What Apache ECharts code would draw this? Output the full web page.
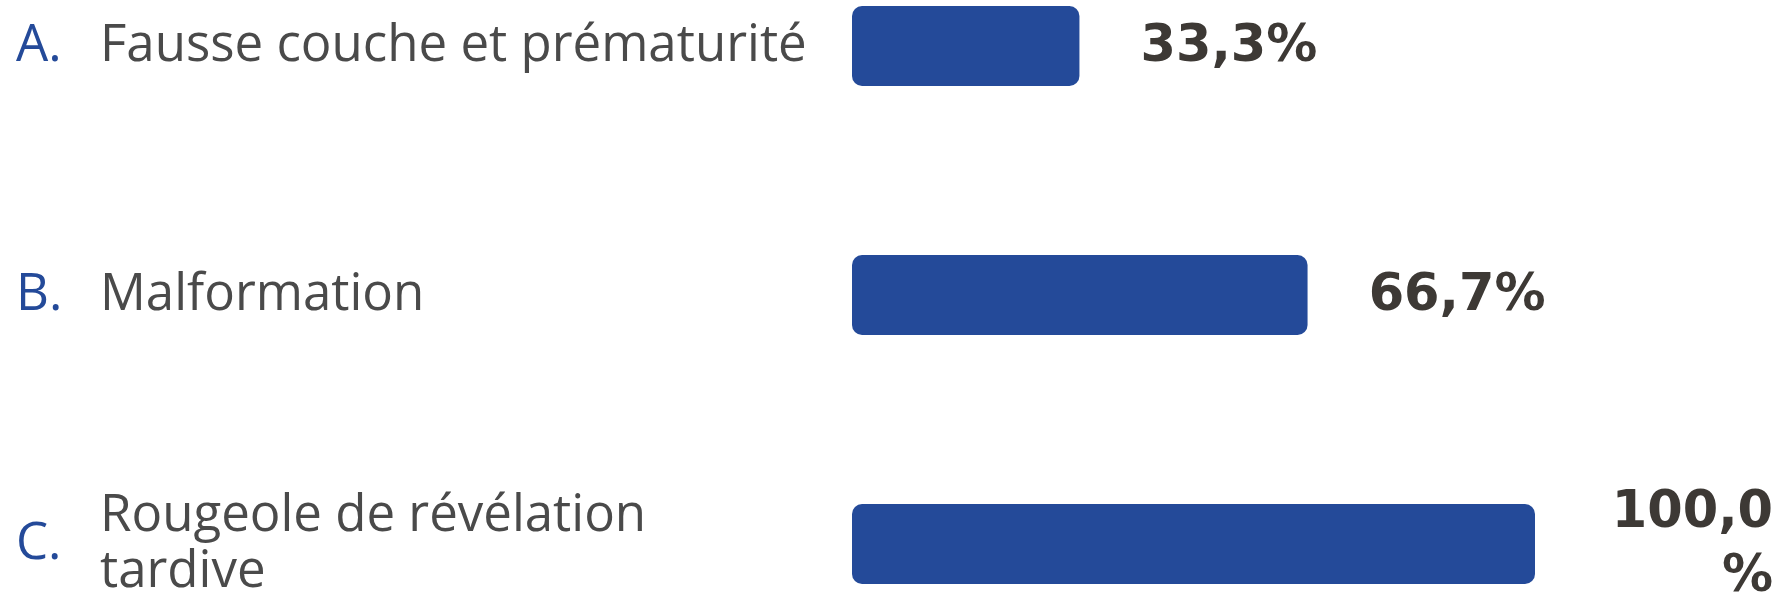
<!DOCTYPE html>
<html>
<head>
<meta charset="utf-8">
<script src="https://cdn.jsdelivr.net/npm/echarts@6/dist/echarts.min.js"></script>
<style>
  html, body { margin: 0; padding: 0; background: #ffffff; }
  #chart { width: 1789px; height: 599px; }
</style>
</head>
<body>
<div id="chart"></div>
<script>
// Categories, their letter markers and the share (%) for each
const letters = ['A.', 'B.', 'C.'];
const categories = ['Fausse couche et prématurité', 'Malformation', 'Rougeole de révélation\ntardive'];
const values = [33.3, 66.7, 100.0];

const BLUE = '#244a99';
const TEXT = '#4a4a4a';
const VALUE_TEXT = '#3d3935';

const chart = echarts.init(document.getElementById('chart'), null, { renderer: 'canvas' });

const baseCategoryAxis = {
  type: 'category',
  inverse: true,
  boundaryGap: false,
  axisLine: { show: false },
  axisTick: { show: false },
  splitLine: { show: false }
};

chart.setOption({
  animation: false,
  backgroundColor: '#ffffff',
  grid: {
    left: 852, right: 254, top: 46, bottom: 55,
    containLabel: false,
    outerBoundsMode: 'none'
  },
  xAxis: {
    type: 'value',
    min: 0,
    max: 100,
    show: false
  },
  yAxis: [
    // letter markers (A., B., C.)
    Object.assign({}, baseCategoryAxis, {
      data: letters,
      axisLabel: {
        margin: 836,
        align: 'left',
        color: BLUE,
        fontFamily: 'Open Sans',
        fontSize: 51,
        padding: [14, 0, 0, 0]
      }
    }),
    // category names
    Object.assign({}, baseCategoryAxis, {
      position: 'left',
      data: categories,
      axisLabel: {
        margin: 752,
        align: 'left',
        color: TEXT,
        fontFamily: 'Open Sans',
        fontSize: 51,
        lineHeight: 56,
        padding: [10, 0, 0, 0]
      }
    })
  ],
  series: [{
    type: 'bar',
    yAxisIndex: 0,
    data: values,
    barWidth: 80,
    itemStyle: { color: BLUE, borderRadius: 10 },
    label: {
      show: true,
      position: 'right',
      distance: 238,
      align: 'right',
      width: 200,
      overflow: 'breakAll',
      lineHeight: 64,
      offset: [0, 2],
      color: VALUE_TEXT,
      fontFamily: 'DejaVu Sans',
      fontWeight: 'bold',
      fontSize: 51,
      formatter: p => p.value.toFixed(1).replace('.', ',') + '%'
    }
  }]
});
</script>
</body>
</html>
